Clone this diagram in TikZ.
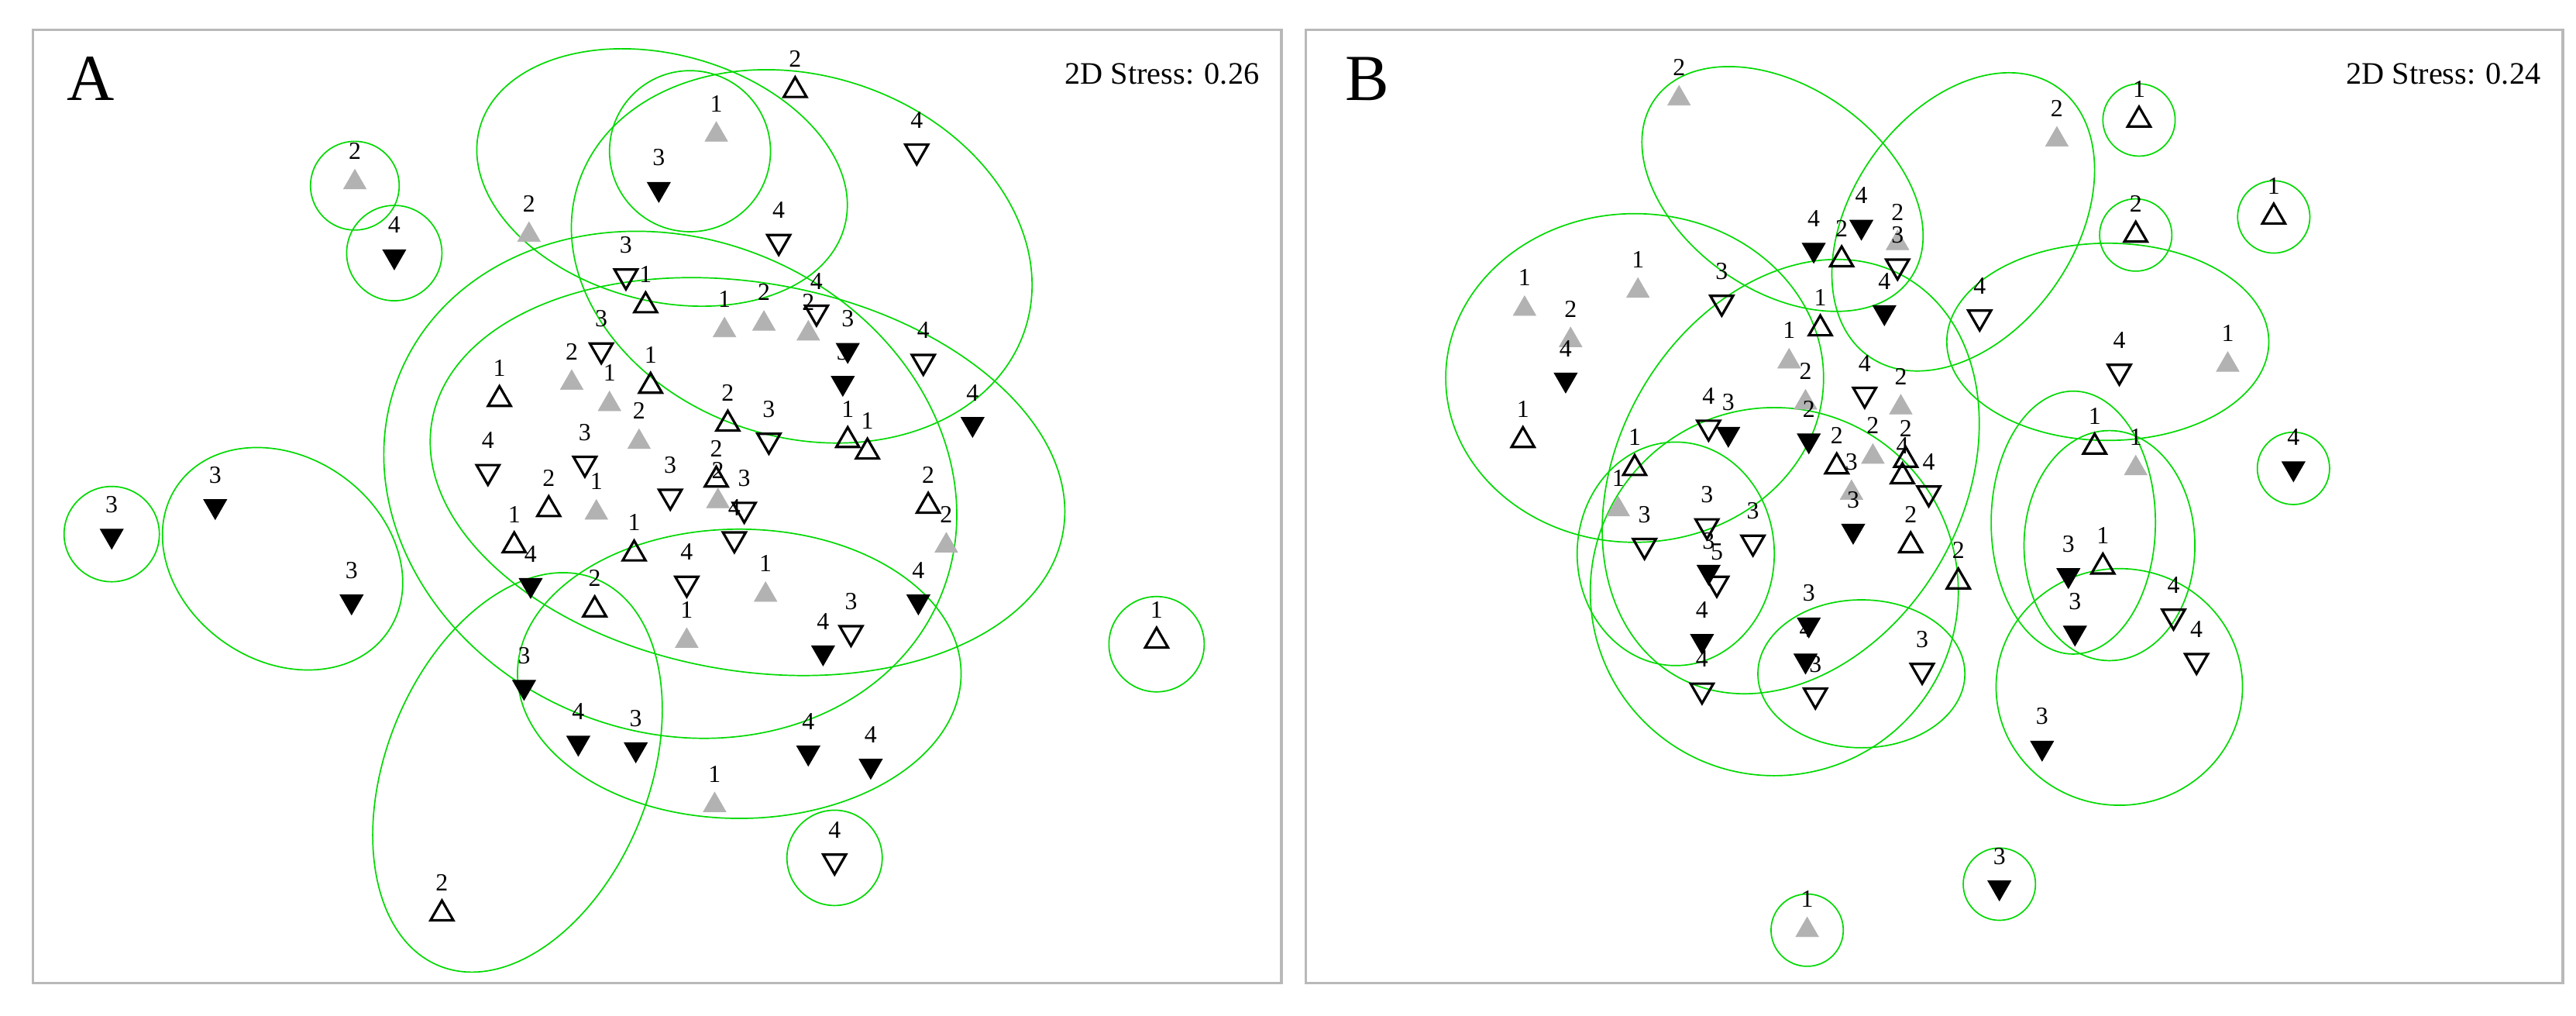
\documentclass[tikz,border=0pt]{standalone}
\usepackage{fontspec}
\setmainfont{Liberation Serif}
\usetikzlibrary{shapes.geometric}
\begin{document}
\begin{tikzpicture}[x=1pt,y=-1pt,
 mk/.style={regular polygon,regular polygon sides=3,minimum size=16pt,inner sep=0pt,line width=1.5pt},
 G/.style={mk,fill=gray!60,draw=gray!60,line width=0.3pt},
 U/.style={mk,draw=black},
 D/.style={mk,draw=black,shape border rotate=180},
 F/.style={mk,draw=black,fill=black,shape border rotate=180,line width=0.5pt},
 lab/.style={font=\fontsize{15}{15}\selectfont,inner sep=0pt},
 ell/.style={draw=green!85!black,line width=0.8pt},
 frame/.style={draw=gray!55,line width=1.5pt}]
\useasboundingbox (0,0) rectangle (1568,618);
\draw[frame] (20,18) rectangle (780,598);
\draw[frame] (795,18) rectangle (1560,598);
\node[font=\fontsize{40}{40}\selectfont] (tA) at (55,48) {A};
\node[font=\fontsize{40}{40}\selectfont] (tB) at (832,48) {B};
\node[font=\fontsize{19}{19}\selectfont,anchor=east] (sA) at (770,45) {2D Stress: 0.26};
\node[font=\fontsize{19}{19}\selectfont,anchor=east] (sB) at (1550,45) {2D Stress: 0.24};
% ellipses A
\foreach \cx/\cy/\rx/\ry/\r in {216/113/27/27/0,240/154/29/29/0,68/325/29/29/0,704/392/29/29/0,508/522/29/29/0,
 420/92/49/49/0,172/340/78/62/-35,403/108/115/75/-15,488/156/143/110/-18,408/295/178/150/-22,
 455/290/195/118/-10,450/410/135/88/0,315/470/80/127/-22}
 \draw[ell,rotate around={\r:(\cx,\cy)}] (\cx,\cy) ellipse ({\rx} and {\ry});
% ellipses B
\foreach \cx/\cy/\rx/\ry/\r in {1302/73/22/22/0,1384/132/22/22/0,1300/143/22/22/0,1396/285/22/22/0,1217/538/22/22/0,1100/566/22/22/0,
 1085/115/95/62/-35,1195/135/68/100/-35,995/230/115/100/0,1283/208/98/60/0,1090/290/105/140/-30,
 1020/337/60/68/0,1080/360/112/112/0,1133/410/63/45/0,1262/318/50/80/0,1284/332/52/70/0,1290/418/75/72/0}
 \draw[ell,rotate around={\r:(\cx,\cy)}] (\cx,\cy) ellipse ({\rx} and {\ry});
% points
\foreach \x/\y/\t/\l [count=\i] in {
484/55/U/2,436/82/G/1,401/115/F/3,558/92/D/4,216/111/G/2,240/156/F/4,322/143/G/2,474/147/D/4,
381/168/D/3,393/186/U/1,441/201/G/1,465/197/G/2,497/190/D/4,492/203/G/2,516/213/F/3,513/233/F/3,
562/220/D/4,592/258/F/4,366/213/D/3,348/233/G/2,371/246/G/1,396/235/U/1,304/243/U/1,389/269/G/2,
443/258/U/2,468/268/D/3,516/268/U/1,528/275/U/1,297/287/D/4,356/282/D/3,334/310/U/2,363/312/G/1,
408/302/D/3,436/292/U/2,437/305/G/2,453/310/D/3,565/308/U/2,576/332/G/2,313/332/U/1,323/356/F/4,
386/337/U/1,447/328/D/4,418/355/D/4,362/371/U/2,466/362/G/1,418/390/G/1,518/385/D/3,501/397/F/4,
559/366/F/4,319/418/F/3,352/452/F/4,387/456/F/3,492/458/F/4,530/466/F/4,435/490/G/1,508/524/D/4,
269/556/U/2,131/308/F/3,214/366/F/3,68/326/F/3,704/390/U/1,
1022/60/G/2,1252/85/G/2,1302/73/U/1,1384/132/U/1,1300/143/U/2,1356/222/G/1,1396/285/F/4,
1133/138/F/4,1104/152/F/4,1121/158/U/2,1155/148/G/2,1155/162/D/3,1147/190/F/4,1048/184/D/3,
997/177/G/1,928/188/G/1,956/207/G/2,953/231/F/4,927/268/U/1,1108/200/U/1,1089/220/G/1,
1205/193/D/4,1290/226/D/4,1099/245/G/2,1135/240/D/4,1157/248/G/2,1040/260/D/4,1052/264/F/3,
1101/268/F/2,1140/278/G/2,1118/284/U/2,1160/280/U/2,1158/290/U/4,1174/300/D/4,1127/300/G/3,
1128/323/F/3,1163/332/U/2,1192/354/U/2,1275/272/U/1,1300/285/G/1,995/285/U/1,985/310/G/1,
1001/332/D/3,1039/320/D/3,1067/330/D/3,1040/348/F/3,1045/355/D/5,1036/390/F/4,1036/420/D/4,
1101/380/F/3,1099/402/F/4,1105/423/D/3,1170/408/D/3,1259/350/F/3,1280/345/U/1,1263/385/F/3,
1323/375/D/4,1337/402/D/4,1243/455/F/3,1217/540/F/3,1100/566/G/1}
{
 \node[\t] (p\i) at (\x,\y) {};
 \node[lab] (l\i) at (\x,\y-19) {\l};
}
\end{tikzpicture}
\end{document}
